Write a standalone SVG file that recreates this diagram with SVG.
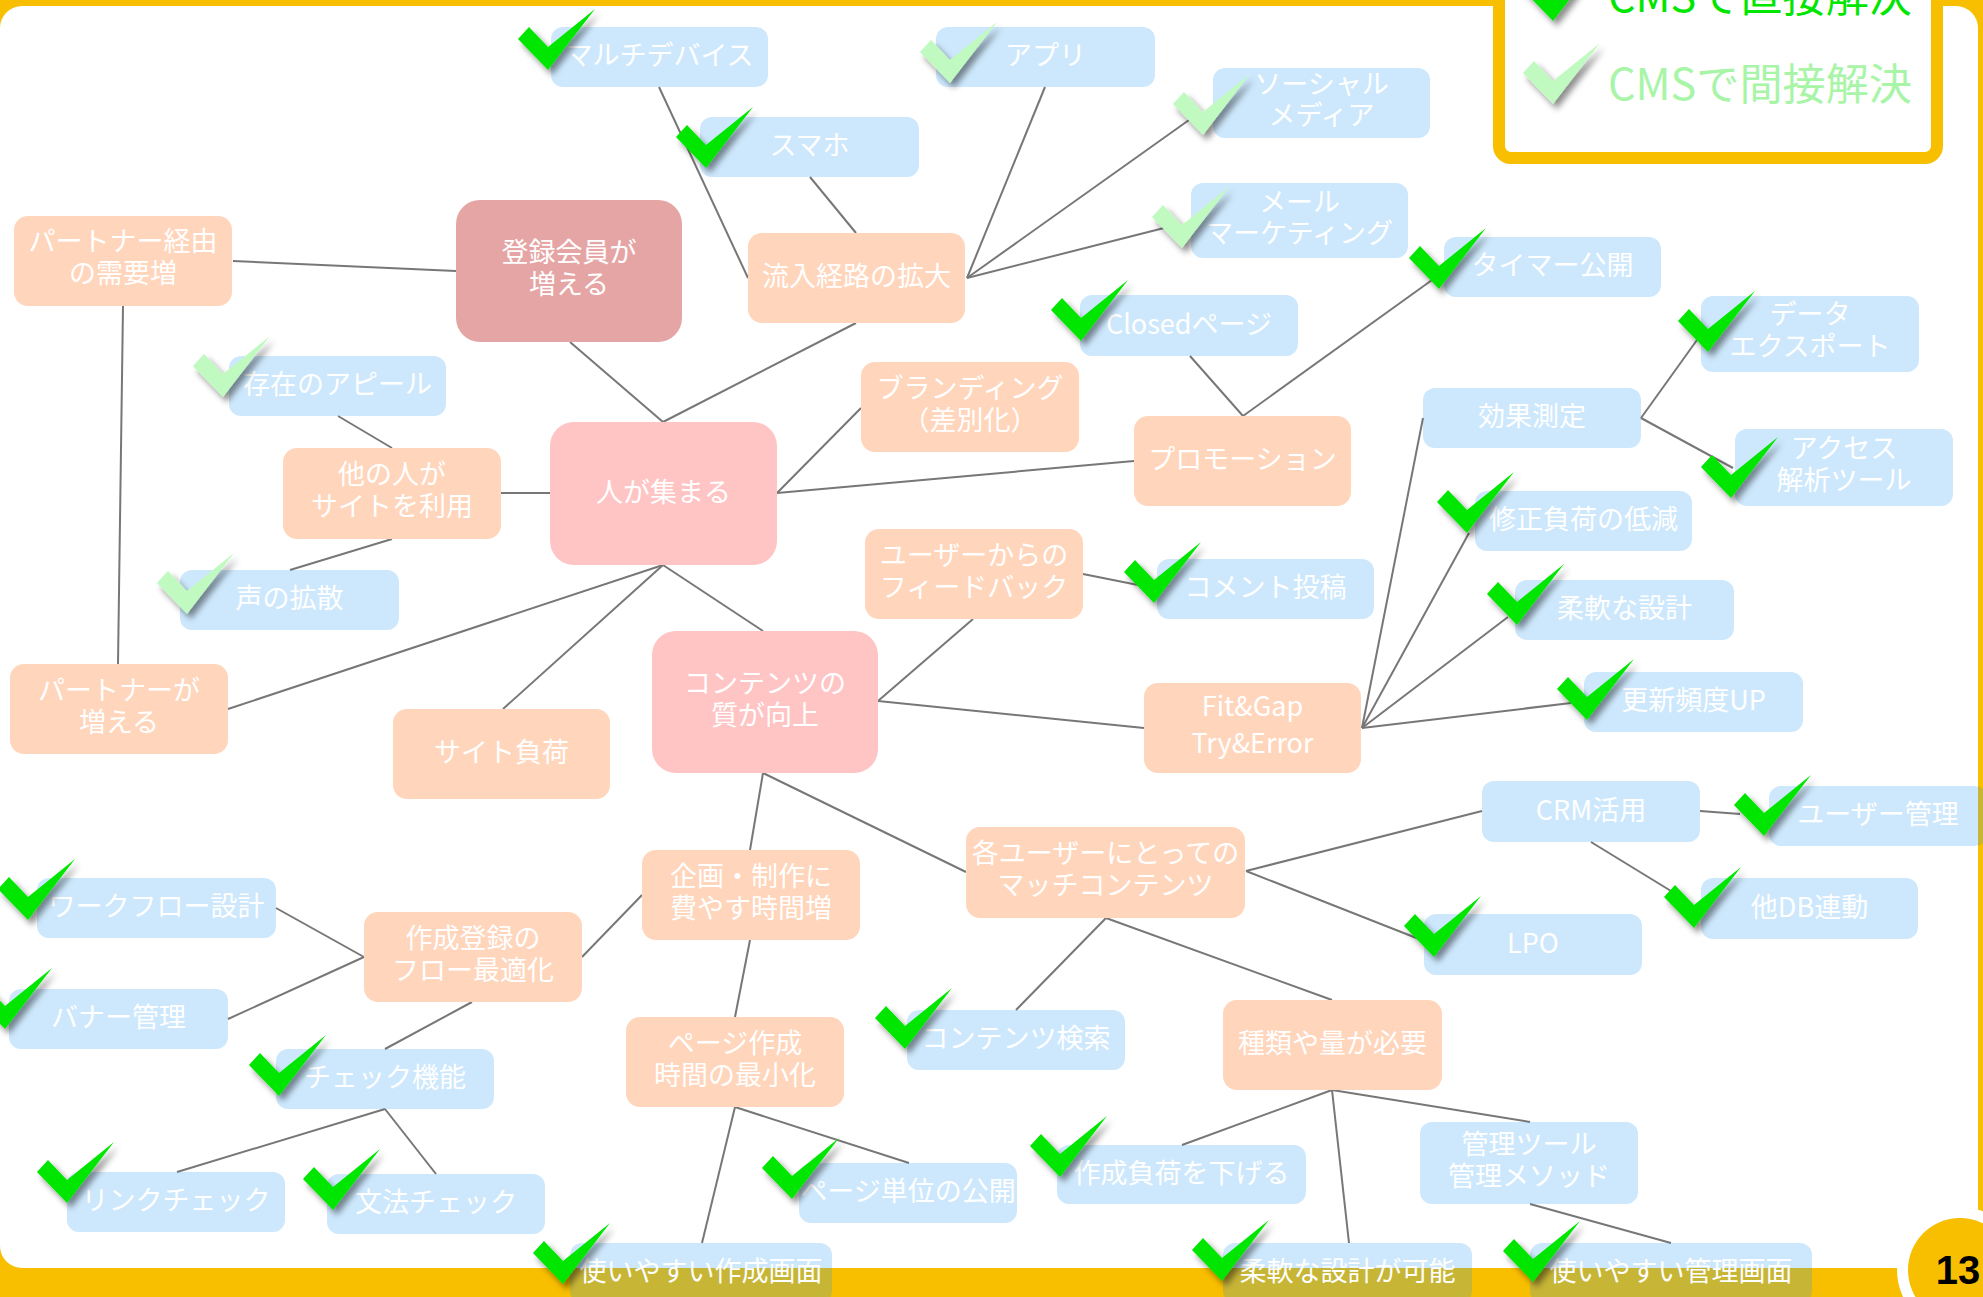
<svg xmlns="http://www.w3.org/2000/svg" xmlns:xlink="http://www.w3.org/1999/xlink" width="1983" height="1297" viewBox="0 0 1983 1297">
<style>
.b{fill:rgba(27,150,245,0.22)}
.p{fill:#FFD5BC}
.k{fill:#FFC4C4}
.r{fill:#E6A5A5}
text{font-family:"Noto Sans CJK JP","Noto Sans",sans-serif;font-size:27px;fill:#fff;text-anchor:middle}
.ln line{stroke:#777;stroke-width:2}
.cd{fill:#00E600;filter:url(#sh)}
.cl{fill:#C0FAC0;filter:url(#sh)}
.lg{font-size:43px;text-anchor:start}
</style>
<defs>
<filter id="sh" x="-30%" y="-30%" width="160%" height="160%">
<feDropShadow dx="4" dy="5" stdDeviation="3" flood-color="#000" flood-opacity="0.45"/>
</filter>
<polygon id="ck" points="0,30 11,18 30,38 77,0 30,61"/>
</defs>
<rect x="0" y="0" width="1983" height="1297" fill="#F8BE00"/>
<rect x="0" y="6" width="1978" height="1262" rx="22" fill="#fff"/>
<g id="legend">
<rect x="1499" y="-30" width="438" height="188" rx="12" fill="#fff" stroke="#F8BE00" stroke-width="12"/>
<use xlink:href="#ck" x="1523" y="-40" class="cd"/>
<text class="lg" x="1608" y="12" fill="#00E600" style="fill:#00E600" textLength="304" lengthAdjust="spacingAndGlyphs">CMSで直接解決</text>
<use xlink:href="#ck" x="1523" y="43" class="cl"/>
<text class="lg" x="1608" y="100" style="fill:#A8F5A8" textLength="304" lengthAdjust="spacingAndGlyphs">CMSで間接解決</text>
</g>
<g id="connectors" class="ln">
<line x1="659" y1="87" x2="748" y2="278"/>
<line x1="810" y1="177" x2="856" y2="233"/>
<line x1="1045" y1="87" x2="967" y2="278"/>
<line x1="1189" y1="120" x2="967" y2="278"/>
<line x1="1164" y1="228" x2="967" y2="278"/>
<line x1="233" y1="261" x2="456" y2="271"/>
<line x1="123" y1="306" x2="118" y2="664"/>
<line x1="570" y1="342" x2="663" y2="422"/>
<line x1="663" y1="422" x2="856" y2="323"/>
<line x1="338" y1="416" x2="392" y2="448"/>
<line x1="501" y1="493" x2="550" y2="493"/>
<line x1="392" y1="539" x2="290" y2="570"/>
<line x1="777" y1="493" x2="861" y2="408"/>
<line x1="777" y1="493" x2="1134" y2="461"/>
<line x1="663" y1="565" x2="228" y2="709"/>
<line x1="663" y1="565" x2="503" y2="709"/>
<line x1="663" y1="565" x2="763" y2="631"/>
<line x1="1190" y1="356" x2="1243" y2="416"/>
<line x1="1243" y1="416" x2="1432" y2="280"/>
<line x1="878" y1="701" x2="973" y2="619"/>
<line x1="1083" y1="574" x2="1138" y2="585"/>
<line x1="878" y1="701" x2="1144" y2="728"/>
<line x1="1362" y1="728" x2="1423" y2="418"/>
<line x1="1362" y1="728" x2="1469" y2="533"/>
<line x1="1362" y1="728" x2="1508" y2="617"/>
<line x1="1362" y1="728" x2="1571" y2="703"/>
<line x1="1641" y1="418" x2="1697" y2="340"/>
<line x1="1641" y1="418" x2="1733" y2="468"/>
<line x1="763" y1="773" x2="750" y2="850"/>
<line x1="763" y1="773" x2="966" y2="872"/>
<line x1="642" y1="895" x2="582" y2="957"/>
<line x1="364" y1="957" x2="276" y2="908"/>
<line x1="364" y1="957" x2="228" y2="1019"/>
<line x1="472" y1="1002" x2="385" y2="1049"/>
<line x1="750" y1="940" x2="735" y2="1017"/>
<line x1="385" y1="1109" x2="177" y2="1172"/>
<line x1="385" y1="1109" x2="436" y2="1174"/>
<line x1="735" y1="1107" x2="909" y2="1163"/>
<line x1="735" y1="1107" x2="702" y2="1243"/>
<line x1="1246" y1="871" x2="1482" y2="811"/>
<line x1="1246" y1="871" x2="1424" y2="941"/>
<line x1="1700" y1="811" x2="1740" y2="814"/>
<line x1="1591" y1="842" x2="1671" y2="891"/>
<line x1="1106" y1="918" x2="1016" y2="1010"/>
<line x1="1106" y1="918" x2="1332" y2="1000"/>
<line x1="1332" y1="1090" x2="1182" y2="1145"/>
<line x1="1332" y1="1090" x2="1530" y2="1122"/>
<line x1="1332" y1="1090" x2="1349" y2="1243"/>
<line x1="1530" y1="1204" x2="1671" y2="1243"/>
</g>
<g id="n-multidevice"><rect class="b" x="551" y="27" width="217" height="60" rx="12"/><text x="659.5" y="65">マルチデバイス</text><use xlink:href="#ck" x="518" y="9" class="cd"/></g>
<g id="n-app"><rect class="b" x="936" y="27" width="219" height="60" rx="12"/><text x="1045.5" y="65">アプリ</text><use xlink:href="#ck" x="920" y="22" class="cl"/></g>
<g id="n-smartphone"><rect class="b" x="700" y="117" width="219" height="60" rx="12"/><text x="809.5" y="155">スマホ</text><use xlink:href="#ck" x="676" y="107" class="cd"/></g>
<g id="n-social"><rect class="b" x="1213" y="68" width="217" height="70" rx="12"/><text x="1321.5" y="94">ソーシャル</text><text x="1321.5" y="125">メディア</text><use xlink:href="#ck" x="1173" y="74" class="cl"/></g>
<g id="n-mail"><rect class="b" x="1191" y="183" width="217" height="75" rx="12"/><text x="1299.5" y="212">メール</text><text x="1299.5" y="243">マーケティング</text><use xlink:href="#ck" x="1152" y="187" class="cl"/></g>
<g id="n-inflow"><rect class="p" x="748" y="233" width="217" height="90" rx="14"/><text x="856.5" y="286">流入経路の拡大</text></g>
<g id="n-members"><rect class="r" x="456" y="200" width="226" height="142" rx="24"/><text x="569" y="262">登録会員が</text><text x="569" y="294">増える</text></g>
<g id="n-partner-demand"><rect class="p" x="14" y="216" width="218" height="90" rx="14"/><text x="123" y="251">パートナー経由</text><text x="123" y="283">の需要増</text></g>
<g id="n-timer"><rect class="b" x="1444" y="237" width="217" height="60" rx="12"/><text x="1552.5" y="275">タイマー公開</text><use xlink:href="#ck" x="1409" y="228" class="cd"/></g>
<g id="n-closed"><rect class="b" x="1080" y="295" width="218" height="61" rx="12"/><text x="1189" y="334">Closedページ</text><use xlink:href="#ck" x="1051" y="280" class="cd"/></g>
<g id="n-export"><rect class="b" x="1701" y="296" width="218" height="76" rx="12"/><text x="1810" y="324">データ</text><text x="1810" y="356">エクスポート</text><use xlink:href="#ck" x="1678" y="291" class="cd"/></g>
<g id="n-appeal"><rect class="b" x="229" y="356" width="217" height="60" rx="12"/><text x="337.5" y="394">存在のアピール</text><use xlink:href="#ck" x="193" y="336" class="cl"/></g>
<g id="n-branding"><rect class="p" x="861" y="362" width="218" height="90" rx="14"/><text x="970" y="398">ブランディング</text><text x="970" y="430">（差別化）</text></g>
<g id="n-measure"><rect class="b" x="1423" y="388" width="218" height="60" rx="12"/><text x="1532" y="426">効果測定</text></g>
<g id="n-others"><rect class="p" x="283" y="448" width="218" height="91" rx="14"/><text x="392" y="484">他の人が</text><text x="392" y="516">サイトを利用</text></g>
<g id="n-gather"><rect class="k" x="550" y="422" width="227" height="143" rx="24"/><text x="663.5" y="502">人が集まる</text></g>
<g id="n-promotion"><rect class="p" x="1134" y="416" width="217" height="90" rx="14"/><text x="1242.5" y="469">プロモーション</text></g>
<g id="n-access"><rect class="b" x="1735" y="429" width="218" height="77" rx="12"/><text x="1844" y="458">アクセス</text><text x="1844" y="490">解析ツール</text><use xlink:href="#ck" x="1701" y="437" class="cd"/></g>
<g id="n-fixload"><rect class="b" x="1475" y="491" width="217" height="60" rx="12"/><text x="1583.5" y="529">修正負荷の低減</text><use xlink:href="#ck" x="1437" y="472" class="cd"/></g>
<g id="n-feedback"><rect class="p" x="865" y="529" width="218" height="90" rx="14"/><text x="974" y="565">ユーザーからの</text><text x="974" y="597">フィードバック</text></g>
<g id="n-voice"><rect class="b" x="180" y="570" width="219" height="60" rx="12"/><text x="289.5" y="608">声の拡散</text><use xlink:href="#ck" x="157" y="553" class="cl"/></g>
<g id="n-comment"><rect class="b" x="1157" y="559" width="217" height="60" rx="12"/><text x="1265.5" y="597">コメント投稿</text><use xlink:href="#ck" x="1124" y="542" class="cd"/></g>
<g id="n-flexible"><rect class="b" x="1515" y="580" width="219" height="60" rx="12"/><text x="1624.5" y="618">柔軟な設計</text><use xlink:href="#ck" x="1487" y="564" class="cd"/></g>
<g id="n-partners"><rect class="p" x="10" y="664" width="218" height="90" rx="14"/><text x="119" y="700">パートナーが</text><text x="119" y="732">増える</text></g>
<g id="n-quality"><rect class="k" x="652" y="631" width="226" height="142" rx="24"/><text x="765" y="693">コンテンツの</text><text x="765" y="725">質が向上</text></g>
<g id="n-siteload"><rect class="p" x="393" y="709" width="217" height="90" rx="14"/><text x="501.5" y="762">サイト負荷</text></g>
<g id="n-fitgap"><rect class="p" x="1144" y="683" width="217" height="90" rx="14"/><text x="1252.5" y="716">Fit&amp;Gap</text><text x="1252.5" y="753">Try&amp;Error</text></g>
<g id="n-update"><rect class="b" x="1584" y="672" width="219" height="60" rx="12"/><text x="1693.5" y="710">更新頻度UP</text><use xlink:href="#ck" x="1557" y="659" class="cd"/></g>
<g id="n-crm"><rect class="b" x="1482" y="781" width="218" height="61" rx="12"/><text x="1591" y="820">CRM活用</text></g>
<g id="n-usermgmt"><rect class="b" x="1769" y="786" width="218" height="60" rx="12"/><text x="1878" y="824">ユーザー管理</text><use xlink:href="#ck" x="1734" y="775" class="cd"/></g>
<g id="n-workflow"><rect class="b" x="37" y="878" width="239" height="60" rx="12"/><text x="156.5" y="916">ワークフロー設計</text><use xlink:href="#ck" x="-2" y="859" class="cd"/></g>
<g id="n-flow"><rect class="p" x="364" y="912" width="218" height="90" rx="14"/><text x="473" y="948">作成登録の</text><text x="473" y="980">フロー最適化</text></g>
<g id="n-planning"><rect class="p" x="642" y="850" width="218" height="90" rx="14"/><text x="751" y="886">企画・制作に</text><text x="751" y="918">費やす時間増</text></g>
<g id="n-match"><rect class="p" x="966" y="827" width="279" height="91" rx="14"/><text x="1105.5" y="863">各ユーザーにとっての</text><text x="1105.5" y="895">マッチコンテンツ</text></g>
<g id="n-db"><rect class="b" x="1701" y="878" width="217" height="61" rx="12"/><text x="1809.5" y="917">他DB連動</text><use xlink:href="#ck" x="1664" y="867" class="cd"/></g>
<g id="n-lpo"><rect class="b" x="1424" y="914" width="218" height="61" rx="12"/><text x="1533" y="953">LPO</text><use xlink:href="#ck" x="1404" y="896" class="cd"/></g>
<g id="n-banner"><rect class="b" x="9" y="989" width="219" height="60" rx="12"/><text x="118.5" y="1027">バナー管理</text><use xlink:href="#ck" x="-25" y="968" class="cd"/></g>
<g id="n-search"><rect class="b" x="907" y="1010" width="218" height="60" rx="12"/><text x="1016" y="1048">コンテンツ検索</text><use xlink:href="#ck" x="875" y="988" class="cd"/></g>
<g id="n-variety"><rect class="p" x="1223" y="1000" width="219" height="90" rx="14"/><text x="1332.5" y="1053">種類や量が必要</text></g>
<g id="n-pagetime"><rect class="p" x="626" y="1017" width="218" height="90" rx="14"/><text x="735" y="1053">ページ作成</text><text x="735" y="1085">時間の最小化</text></g>
<g id="n-check"><rect class="b" x="276" y="1049" width="218" height="60" rx="12"/><text x="385" y="1087">チェック機能</text><use xlink:href="#ck" x="249" y="1035" class="cd"/></g>
<g id="n-mgmttool"><rect class="b" x="1420" y="1122" width="218" height="82" rx="12"/><text x="1529" y="1154">管理ツール</text><text x="1529" y="1186">管理メソッド</text></g>
<g id="n-reduce"><rect class="b" x="1057" y="1145" width="249" height="59" rx="12"/><text x="1181.5" y="1183">作成負荷を下げる</text><use xlink:href="#ck" x="1030" y="1116" class="cd"/></g>
<g id="n-pagepub"><rect class="b" x="799" y="1163" width="218" height="60" rx="12"/><text x="908" y="1201">ページ単位の公開</text><use xlink:href="#ck" x="762" y="1138" class="cd"/></g>
<g id="n-link"><rect class="b" x="67" y="1172" width="218" height="60" rx="12"/><text x="176" y="1210">リンクチェック</text><use xlink:href="#ck" x="37" y="1142" class="cd"/></g>
<g id="n-grammar"><rect class="b" x="327" y="1174" width="218" height="60" rx="12"/><text x="436" y="1212">文法チェック</text><use xlink:href="#ck" x="303" y="1149" class="cd"/></g>
<g id="n-editor"><rect class="b" x="570" y="1243" width="262" height="60" rx="12"/><text x="701" y="1281">使いやすい作成画面</text><use xlink:href="#ck" x="533" y="1223" class="cd"/></g>
<g id="n-flexdesign"><rect class="b" x="1223" y="1243" width="249" height="60" rx="12"/><text x="1347.5" y="1281">柔軟な設計が可能</text><use xlink:href="#ck" x="1192" y="1220" class="cd"/></g>
<g id="n-admin"><rect class="b" x="1530" y="1243" width="282" height="60" rx="12"/><text x="1671" y="1281">使いやすい管理画面</text><use xlink:href="#ck" x="1503" y="1221" class="cd"/></g>
<g id="page-number">
<circle cx="1960" cy="1270" r="63" fill="#fff"/>
<circle cx="1960" cy="1270" r="52" fill="#F8BE00"/>
<text x="1958" y="1284" style="fill:#000;font-weight:bold;font-size:40px;font-family:'Liberation Sans','Noto Sans',sans-serif">13</text>
</g>
</svg>
